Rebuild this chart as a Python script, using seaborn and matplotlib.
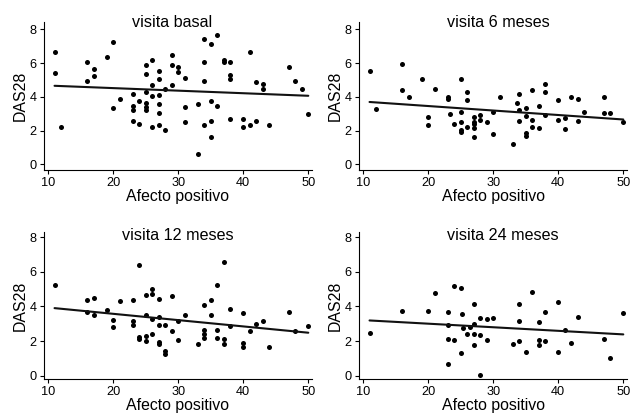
import matplotlib
matplotlib.use("Agg")
import matplotlib.pyplot as plt
import seaborn as sns
import numpy as np

# ---- data ----
titles = ["visita basal", "visita 6 meses", "visita 12 meses", "visita 24 meses"]
xlabel = "Afecto positivo"
ylabel = "DAS28"
xticks = [10, 20, 30, 40, 50]
yticks = [0, 2, 4, 6, 8]

x_basal = [11, 11, 12, 16, 16, 17, 17, 19, 20, 20, 21, 23, 23, 23, 23, 24, 24,
           25, 25, 25, 25, 25, 25, 26, 26, 26, 26, 27, 27, 27, 27, 27, 27, 28, 28,
           29, 29, 29, 30, 30, 31, 31, 31, 33, 33, 34, 34, 34, 34, 35, 35, 35, 35,
           36, 36, 37, 37, 38, 38, 38, 38, 40, 40, 41, 41, 42, 42, 43, 43, 44, 47,
           48, 49, 50]
y_basal = [6.67, 5.43, 2.2, 6.06, 4.94, 5.65, 5.25, 6.35, 7.24, 3.33, 3.9, 4.2,
           3.47, 3.24, 2.6, 3.78, 2.41, 5.92, 5.39, 4.27, 3.67, 3.43, 3.2, 6.22,
           4.7, 4.06, 2.25, 5.55, 5.06, 4.12, 3.57, 3.08, 2.33, 4.45, 2.06, 6.47,
           5.92, 4.7, 5.78, 5.49, 5.12, 3.43, 2.53, 3.57, 0.61, 7.45, 6.06, 4.92,
           2.35, 7.12, 3.78, 2.59, 1.63, 7.69, 3.47, 6.22, 6.1, 6.06, 5.33, 5.06,
           2.69, 2.67, 2.22, 6.69, 2.35, 4.9, 2.6, 4.76, 4.49, 2.37, 5.75, 4.96,
           4.49, 3.0]

x_6m = [11, 12, 16, 16, 17, 19, 20, 20, 21, 23, 23, 23.3, 24, 25, 25, 25, 25, 25,
        26, 26, 26, 27, 27, 27, 27, 27, 28, 28, 29, 30, 30, 31, 33, 33.6, 34, 34,
        34, 35, 35, 35, 35, 36, 36, 36, 37, 37, 38, 38, 38, 40, 40, 41, 41, 42,
        43, 43, 44, 47, 47, 48, 50]
y_6m = [5.55, 3.29, 5.94, 4.41, 4.0, 5.04, 2.8, 2.35, 4.45, 4.0, 3.86, 3.0, 2.39,
        5.04, 3.14, 2.51, 2.06, 1.9, 4.27, 3.82, 2.22, 2.84, 2.51, 2.41, 2.16,
        1.65, 2.94, 2.61, 2.53, 3.14, 1.8, 4.0, 1.24, 3.63, 4.16, 3.2, 2.55, 3.33,
        2.9, 1.88, 1.67, 4.41, 2.61, 2.25, 3.47, 2.16, 4.76, 4.29, 2.94, 3.82,
        2.65, 2.75, 2.1, 4.0, 3.86, 2.55, 3.14, 4.0, 3.04, 3.04, 2.51]

x_12m = [11, 16, 16, 17, 17, 19, 20, 20, 21, 23, 23, 23, 24, 24, 24, 25, 25, 25,
         25, 26, 26, 26, 26, 27, 27, 27, 27, 27, 28, 28, 28, 29, 29, 30, 30, 31,
         33, 34, 34, 34, 34, 35, 35, 36, 36, 36, 37, 37, 37, 38, 38, 40, 40, 40,
         41, 42, 43, 44, 47, 48, 50]
y_12m = [5.26, 4.36, 3.66, 4.51, 3.52, 3.77, 3.24, 2.82, 4.29, 4.36, 3.16, 2.95,
         6.4, 2.25, 2.11, 4.69, 3.52, 2.3, 2.0, 5.01, 4.72, 3.26, 2.4, 4.46, 3.39,
         2.91, 1.96, 1.83, 2.91, 1.45, 1.28, 4.59, 2.59, 3.16, 2.06, 3.52, 1.85,
         4.06, 2.67, 2.4, 2.19, 4.36, 3.52, 5.26, 2.67, 2.21, 6.57, 2.15, 1.87,
         3.83, 2.86, 3.6, 1.92, 1.68, 2.59, 2.97, 3.16, 1.68, 3.71, 2.59, 2.86]

x_24m = [11, 16, 20, 21, 23, 23, 23, 23, 24, 24, 25, 25.2, 25.3, 25, 26, 26.4,
         27, 27, 27, 27, 28, 28, 28, 29, 29, 30, 33, 34, 34, 34, 35, 36, 37, 37,
         37, 38, 38, 40, 40, 41, 42, 43, 47, 48, 50]
y_24m = [2.48, 3.72, 3.72, 4.77, 3.68, 2.91, 2.15, 0.7, 2.09, 5.19, 5.06, 3.55,
         2.75, 1.32, 2.44, 2.83, 4.13, 2.97, 2.42, 1.78, 3.35, 2.34, 0.06, 3.29,
         2.05, 3.35, 1.84, 4.13, 3.14, 2.03, 1.38, 4.84, 3.1, 2.09, 1.78, 3.7,
         2.0, 4.26, 1.38, 2.64, 1.92, 3.41, 2.15, 1.03, 3.62]

series = [(x_basal, y_basal), (x_6m, y_6m), (x_12m, y_12m), (x_24m, y_24m)]

# ---- style ----
sns.set_style("white")
plt.rcParams["font.family"] = ["Liberation Sans", "DejaVu Sans"]
plt.rcParams["text.color"] = "black"
plt.rcParams["axes.labelcolor"] = "black"
plt.rcParams["xtick.color"] = "black"
plt.rcParams["ytick.color"] = "black"

W, H = 633, 417
fig = plt.figure(figsize=(W / 100, H / 100), dpi=100)

# axes boxes in pixels: (left, top, right, bottom)
boxes = [(44, 22, 312, 170), (359, 22, 627, 170),
         (44, 232, 312, 379), (359, 232, 627, 379)]
ylims = [(-0.326, 8.444), (-0.326, 8.444), (-0.173, 8.288), (-0.173, 8.288)]
title_pos = [(0.478, 0.964), (0.519, 0.964), (0.498, 0.948), (0.536, 0.948)]

for i, ((x, y), (l, t, r, b)) in enumerate(zip(series, boxes)):
    ax = fig.add_axes([l / W, (H - b) / H, (r - l) / W, (b - t) / H])
    sns.regplot(x=np.array(x), y=np.array(y), ax=ax, ci=None, color="black",
                scatter_kws=dict(s=13, linewidths=0, alpha=1),
                line_kws=dict(lw=1.5, color="#111111"))
    ax.set_xlim(9.38, 50.57)
    ax.set_ylim(*ylims[i])
    ax.set_xticks(xticks)
    ax.set_yticks(yticks)
    for s in ["top", "right"]:
        ax.spines[s].set_visible(False)
    for s in ["left", "bottom"]:
        ax.spines[s].set_color("black")
        ax.spines[s].set_linewidth(0.8)
    ax.tick_params(direction="out", length=3, width=0.8, pad=2.2,
                   labelsize=9.2, color="black", labelcolor="black",
                   left=True, bottom=True)
    ax.set_xlabel(xlabel, fontsize=11.4, color="black")
    ax.set_ylabel(ylabel, fontsize=11.4, color="black")
    ax.xaxis.set_label_coords(0.5, -(189 - 170) / (b - t))
    ax.yaxis.set_label_coords(-(44 - 27.5) / 268, 0.5)
    ax.text(title_pos[i][0], title_pos[i][1], titles[i], transform=ax.transAxes,
            ha="center", va="baseline", fontsize=11.6, color="black")
    ax.patch.set_alpha(0)

fig.savefig("out.png", dpi=100, facecolor="white")
